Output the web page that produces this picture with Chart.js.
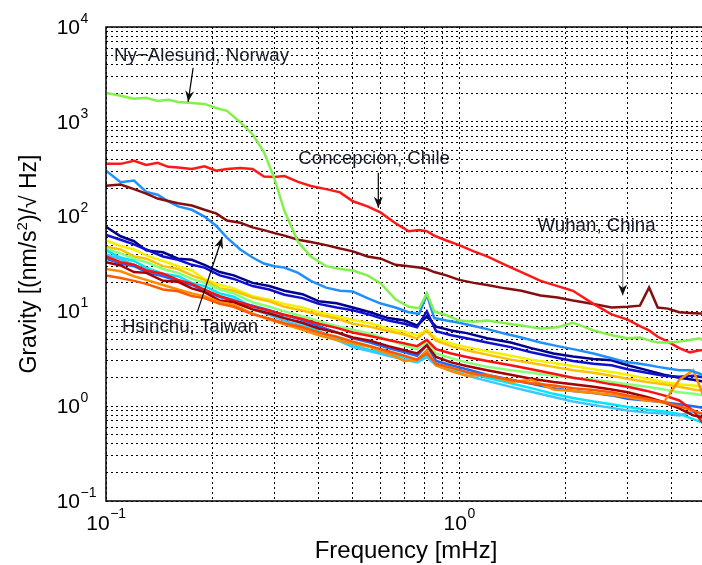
<!DOCTYPE html>
<html><head><meta charset="utf-8">
<script src="https://cdn.jsdelivr.net/npm/chart.js@4.4.0/dist/chart.umd.min.js"></script>
<style>html,body{margin:0;padding:0;background:#fff;overflow:hidden;width:702px;height:565px}</style>
</head><body>
<canvas id="c" width="712" height="565"></canvas>
<script>
// ---------- DATA ----------
const freqMain = [0.10,0.11,0.12,0.13,0.14,0.15,0.16,0.175,0.19,0.205,0.22,0.24,0.26,0.28,0.30,0.32,0.35,0.38,0.42,0.46,0.50,0.55,0.60,0.66,0.72,0.77,0.81,0.85,0.92,1.0,1.1,1.2,1.35,1.5,1.7,1.9,2.1,2.4,2.7,3.0,3.25,3.45,3.65,3.9,4.2,4.5,4.8,5.0];
const nyAlesund = [2020,1880,1750,1790,1660,1710,1620,1580,1545,1400,1305,990,740,480,250,115,54,38,30,28,27,24,19.7,13.4,11.2,10.8,15.5,10,9.1,8.0,7.8,8.0,7.5,7.1,6.6,6.8,7.6,6.3,5.6,5.2,5.3,4.95,4.7,4.7,4.8,5.0,5.2,4.7];
const concepcion = [361,360,388,350,370,335,330,318,340,305,318,325,318,265,262,268,232,210,195,180,145,128,110,85,70,72,70,63,56,50,43,38,31,26,21,18.5,16.5,12,9.3,8.2,7.0,6.3,5.4,4.8,4.1,3.7,3.9,3.9];
const wuhan = [212,218,195,175,155,146,138,131,118,108,91,86,77,72,67,63,57,54,50,46,43,38,36,31,30,29,28,26,24,21.5,20,19,17.5,16.5,14.7,14,13,12,11,11.2,11.5,17.9,11,10.7,9.8,9.6,9.5,9.5];
const hsinchu = [305,230,240,182,170,145,128,118,100,80,60,45,37,32,30,29,25.5,21,17.8,16.5,16.2,13.8,12.1,11,9.8,9.4,15,8.5,8.0,7.6,7.0,6.5,5.8,5.3,4.7,4.3,4.0,3.6,3.2,2.9,2.8,2.7,2.6,2.5,2.4,2.4,2.2,2.0];

const freqBundle = [0.10,0.11,0.12,0.13,0.145,0.16,0.175,0.19,0.21,0.23,0.26,0.29,0.32,0.36,0.40,0.45,0.50,0.56,0.63,0.70,0.76,0.81,0.86,0.95,1.05,1.2,1.4,1.6,1.85,2.1,2.4,2.7,3.0,3.4,3.8,4.2,4.6,5.0];
const stNavy = [78,62,55,44,42,36,35,31,26,24,20,18.5,16.5,15.2,12.8,12.2,11.0,9.8,8.5,8.0,7.1,8.8,6.9,6.3,5.9,5.2,4.7,4.1,3.6,3.35,3.15,3.05,2.7,2.4,2.15,2.0,1.9,1.8];
const stBlue = [64,57,51,45,38,35,31,29,24,22,18.5,17,15,13.8,12,11,10.3,9.2,8.0,7.4,6.8,10,6.2,5.6,5.2,4.7,4.2,3.7,3.3,3.0,2.8,2.7,2.45,2.25,2.1,2.05,2.1,2.0];
const stYellow = [56,49,45,39,34,30,27,22,19,17.5,14.5,13.3,12,11,9.8,8.9,8.1,7.5,6.6,6.1,5.6,6.4,5.2,4.6,4.2,3.8,3.4,3.1,2.85,2.65,2.45,2.3,2.15,1.95,1.8,1.7,1.65,1.6];
const stGold = [48,45,38,36,30,28,24,21.5,17.5,16.5,14,12.8,11.2,10.2,9.2,8.4,7.4,6.9,6.2,5.7,5.2,6.2,4.9,4.3,3.9,3.5,3.1,2.85,2.6,2.4,2.25,2.1,1.95,1.8,1.7,1.6,1.5,1.45];
const stGreen = [46,41,36,33,28,25.5,22,20,17,15.5,12.5,11.2,10,8.9,7.9,7.0,6.4,5.8,5.0,4.4,4.0,4.8,3.6,3.2,2.9,2.6,2.4,2.25,2.1,2.0,1.9,1.8,1.7,1.6,1.5,1.4,1.35,1.3];
const stCyan = [44,37,34,29,25,23.5,20,18.5,15.5,14.3,11,9.8,8.6,7.4,6.2,5.2,4.4,3.9,3.6,3.3,3.0,3.4,2.8,2.5,2.25,2.0,1.75,1.55,1.35,1.22,1.12,1.05,0.98,0.92,0.88,0.83,0.73,0.65];
const stSky = [40,35.5,31,27.5,24,21,19.5,16.5,14.5,13.3,10.5,9.2,8.0,7.0,6.0,5.0,4.2,3.8,3.4,3.1,2.9,3.3,2.7,2.35,2.1,1.85,1.6,1.42,1.25,1.12,1.03,0.96,0.9,0.86,0.84,0.8,0.88,0.7];
const stAzure = [36,32,30,26,23.5,21,19,16.5,14.2,13,11.5,10.3,9.2,8.1,7.0,6.0,5.2,4.7,4.1,3.7,3.4,4.4,3.0,2.7,2.45,2.15,1.9,1.72,1.55,1.45,1.38,1.3,1.2,1.15,1.1,1.05,1.0,0.95];
const stRed = [38,33,31,27,25,21.5,19.5,17,14.5,13,11.3,10.2,9.2,8.3,7.4,6.7,6.0,5.5,5.0,4.6,4.3,5.0,4.0,3.6,3.3,3.0,2.7,2.45,2.2,2.0,1.85,1.7,1.6,1.45,1.3,1.15,0.9,0.6];
const stDarkRed = [33,30.5,26,25.5,21,20.5,17.5,16,13,12.5,10.5,9.5,8.5,7.6,6.6,6.0,5.3,4.9,4.3,3.9,3.6,4.4,3.3,2.9,2.65,2.4,2.15,1.95,1.8,1.7,1.6,1.5,1.4,1.25,1.1,0.95,0.8,0.75];
const stOrange = [28,26.5,23.5,21.5,19,17,15.5,14.5,12.5,11.8,9.5,8.2,7.3,6.4,5.6,5.0,4.6,4.2,3.6,3.0,3.1,3.9,2.7,2.35,2.1,2.15,1.8,1.9,1.5,1.45,1.38,1.32,1.25,1.15,1.1,1.9,2.4,1.1];
const stOrangeRed = [24,22.5,21,19.5,17,16.3,14.5,13.8,12,11.2,9.3,8.4,7.5,6.8,6.0,5.4,4.8,4.3,3.8,3.4,3.1,3.6,2.8,2.55,2.3,2.1,1.9,1.75,1.65,1.55,1.48,1.4,1.3,1.2,1.1,1.0,0.9,0.8];

const xGridTicks = [0.1,0.2,0.3,0.4,0.5,0.6,0.7,0.8,0.9,1,2,3,4,5];
const yGridTicks = [0.1,0.2,0.3,0.4,0.5,0.6,0.7,0.8,0.9,1,2,3,4,5,6,7,8,9,10,20,30,40,50,60,70,80,90,100,200,300,400,500,600,700,800,900,1000,2000,3000,4000,5000,6000,7000,8000,9000,10000];
const xLabelTicks = [{v:0.1,e:'\u22121'},{v:1,e:'0'}];
const yLabelTicks = [{v:10000,e:'4'},{v:1000,e:'3'},{v:100,e:'2'},{v:10,e:'1'},{v:1,e:'0'},{v:0.1,e:'\u22121'}];
const xTitle = 'Frequency [mHz]';
const yTitleParts = ['Gravity [(nm/s','2',')/\u221A Hz]'];
// annotations in data coordinates (freq, value)
const notes = [
  {text:'Ny\u2212Alesund, Norway', f:0.1054, v:4950, a:[0.1765,3700,0.1708,1624], ac:'#000'},
  {text:'Concepcion, Chile', f:0.3503, v:408, a:[0.5903,290,0.5903,124], ac:'#000'},
  {text:'Wuhan, China', f:1.667, v:80.4, a:[2.904,52,2.904,14.7], ac:'#8a8a8a'},
  {text:'Hsinchu, Taiwan', f:0.111, v:6.79, a:[0.1812,9.77,0.2133,60.1], ac:'#000'}
];

// ---------- DATASETS ----------
function pts(fs, vs){ return fs.map((f,i)=>({x:f,y:vs[i]})); }
const bundle = [
  [stOrangeRed,'#ff5a00'],[stOrange,'#ff8c00'],[stDarkRed,'#a80000'],[stRed,'#ff1010'],
  [stAzure,'#1a6cff'],[stSky,'#3fc6ff'],[stCyan,'#00e6ff'],[stGreen,'#86ff7a'],
  [stGold,'#ffc000'],[stYellow,'#f4f000'],[stBlue,'#1010d0'],[stNavy,'#00008c']
];
const datasets = [];
bundle.forEach((b,i)=>datasets.push({data:pts(freqBundle,b[0]),borderColor:b[1],order:20+i}));
datasets.push({data:pts(freqMain,hsinchu),borderColor:'#2090ff',order:4});
datasets.push({data:pts(freqMain,wuhan),borderColor:'#850f0f',order:3});
datasets.push({data:pts(freqMain,concepcion),borderColor:'#ff1818',order:2});
datasets.push({data:pts(freqMain,nyAlesund),borderColor:'#84f04c',order:1});

const FONT = '"Liberation Sans", Arial, Helvetica, sans-serif';
function drawArrow(ctx,x1,y1,x2,y2,color){
  ctx.save();
  ctx.strokeStyle=color; ctx.lineWidth=1.2; ctx.setLineDash([]);
  ctx.beginPath(); ctx.moveTo(x1,y1); ctx.lineTo(x2,y2); ctx.stroke();
  const ang=Math.atan2(y2-y1,x2-x1), L=11, W=4.5;
  ctx.fillStyle='#111';
  ctx.beginPath();
  ctx.moveTo(x2,y2);
  ctx.lineTo(x2-L*Math.cos(ang)+W*Math.sin(ang), y2-L*Math.sin(ang)-W*Math.cos(ang));
  ctx.lineTo(x2-L*0.7*Math.cos(ang), y2-L*0.7*Math.sin(ang));
  ctx.lineTo(x2-L*Math.cos(ang)-W*Math.sin(ang), y2-L*Math.sin(ang)+W*Math.cos(ang));
  ctx.closePath(); ctx.fill();
  ctx.restore();
}

const deco = {
  id:'deco',
  afterDraw(chart){
    const ctx=chart.ctx, xs=chart.scales.x, ys=chart.scales.y, a=chart.chartArea;
    ctx.save();
    ctx.setLineDash([]);
    ctx.strokeStyle='#000'; ctx.lineWidth=1.5;
    ctx.strokeRect(a.left,a.top,a.right-a.left,a.bottom-a.top);
    ctx.fillStyle='#000';
    // y tick labels
    yLabelTicks.forEach(t=>{
      const y=ys.getPixelForValue(t.v);
      ctx.font='21px '+FONT; ctx.textAlign='right'; ctx.textBaseline='middle';
      ctx.fillText('10',80,y+1);
      ctx.font='14px '+FONT; ctx.textAlign='left';
      ctx.fillText(t.e,80.5,y-8);
    });
    // x tick labels
    xLabelTicks.forEach(t=>{
      const x=xs.getPixelForValue(t.v);
      ctx.font='21px '+FONT; const w1=ctx.measureText('10').width;
      ctx.font='14px '+FONT; const w2=ctx.measureText(t.e).width;
      const x0=x-(w1+w2)/2;
      ctx.textAlign='left'; ctx.textBaseline='middle';
      ctx.font='21px '+FONT; ctx.fillText('10',x0,a.bottom+23);
      ctx.font='14px '+FONT; ctx.fillText(t.e,x0+w1+0.5,a.bottom+13);
    });
    // x title
    ctx.font='24px '+FONT; ctx.textAlign='center'; ctx.textBaseline='alphabetic';
    ctx.fillText(xTitle,(a.left+a.right)/2,a.bottom+57);
    // y title (rotated)
    ctx.save();
    ctx.translate(36,(a.top+a.bottom)/2);
    ctx.rotate(-Math.PI/2);
    const big='23px '+FONT, small='15px '+FONT;
    ctx.font=big; const p0=ctx.measureText(yTitleParts[0]).width, p2=ctx.measureText(yTitleParts[2]).width;
    ctx.font=small; const p1=ctx.measureText(yTitleParts[1]).width;
    let cx=-(p0+p1+p2)/2;
    ctx.textAlign='left'; ctx.textBaseline='alphabetic';
    ctx.font=big; ctx.fillText(yTitleParts[0],cx,0); cx+=p0;
    ctx.font=small; ctx.fillText(yTitleParts[1],cx,-9); cx+=p1;
    ctx.font=big; ctx.fillText(yTitleParts[2],cx,0);
    ctx.restore();
    // annotations
    notes.forEach(n=>{
      ctx.font='18.7px '+FONT; ctx.fillStyle='#161c2b'; ctx.textAlign='left'; ctx.textBaseline='middle';
      ctx.fillText(n.text, xs.getPixelForValue(n.f), ys.getPixelForValue(n.v));
      drawArrow(ctx, xs.getPixelForValue(n.a[0]), ys.getPixelForValue(n.a[1]),
                     xs.getPixelForValue(n.a[2]), ys.getPixelForValue(n.a[3]), n.ac);
    });
    ctx.restore();
  }
};

new Chart(document.getElementById('c'),{
  type:'line',
  data:{datasets},
  options:{
    responsive:false, animation:false, devicePixelRatio:1,
    layout:{padding:{left:0,right:6,top:27,bottom:0}},
    plugins:{legend:{display:false},tooltip:{enabled:false}},
    elements:{point:{radius:0},line:{tension:0,borderWidth:2.5,fill:false}},
    scales:{
      x:{type:'logarithmic',min:0.1,max:5,
        afterBuildTicks:s=>{s.ticks=xGridTicks.map(v=>({value:v}));},
        afterFit:s=>{s.height=64;},
        ticks:{display:false},
        grid:{color:'#000',lineWidth:1,drawTicks:false},
        border:{display:false,dash:[2,3]}},
      y:{type:'logarithmic',min:0.1,max:10000,
        afterBuildTicks:s=>{s.ticks=yGridTicks.map(v=>({value:v}));},
        afterFit:s=>{s.width=106;},
        ticks:{display:false},
        grid:{color:'#000',lineWidth:1,drawTicks:false},
        border:{display:false,dash:[2,3]}}
    }
  },
  plugins:[deco]
});
</script>
</body></html>
